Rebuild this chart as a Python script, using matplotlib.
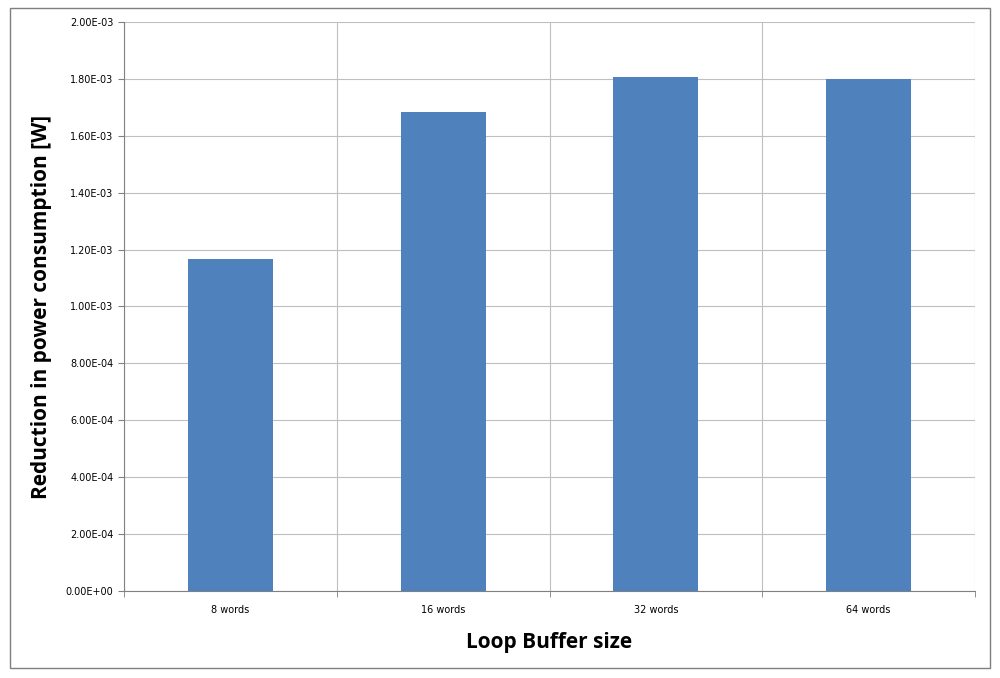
import matplotlib
matplotlib.use("Agg")
import matplotlib.pyplot as plt
from matplotlib.ticker import FuncFormatter, MultipleLocator
from matplotlib.patches import Rectangle

categories = ["8 words", "16 words", "32 words", "64 words"]
values = [1.167e-3, 1.684e-3, 1.808e-3, 1.800e-3]

fig = plt.figure(figsize=(10, 6.78), dpi=100)
ax = fig.add_axes([0.124, 0.1283, 0.851, 0.8393])
x = list(range(len(categories)))
ax.bar(x, values, width=0.4, color="#4F81BD", zorder=3)
ax.set_xlim(-0.5, len(categories) - 0.5)
ax.set_ylim(0, 2.0e-3)
ax.yaxis.set_major_locator(MultipleLocator(2e-4))
ax.yaxis.set_major_formatter(FuncFormatter(lambda v, p: "%.2E" % v))
ax.set_xticks(x)
ax.set_xticklabels(categories)
ax.set_xticks([i + 0.5 for i in range(-1, len(categories))], minor=True)
ax.grid(axis="y", which="major", color="#BFBFBF", lw=0.8, zorder=0)
ax.grid(axis="x", which="minor", color="#BFBFBF", lw=0.8, zorder=0)
ax.tick_params(axis="x", which="major", length=0, labelsize=7, pad=10)
ax.tick_params(axis="x", which="minor", length=4, color="#808080")
ax.tick_params(axis="y", labelsize=7, length=4, color="#808080")
for s in ["top", "right"]:
    ax.spines[s].set_visible(False)
for s in ["left", "bottom"]:
    ax.spines[s].set_color("#808080")
ax.set_xlabel("Loop Buffer size", fontsize=15, fontweight="bold", family="Open Sans", labelpad=12)
ax.set_ylabel("Reduction in power consumption [W]", fontsize=15, fontweight="bold", family="Open Sans", labelpad=10)
fig.patches.append(Rectangle((0.01, 0.015), 0.98, 0.973, transform=fig.transFigure,
                             fill=False, ec="#7F7F7F", lw=1))
fig.savefig("out.png", dpi=100)
